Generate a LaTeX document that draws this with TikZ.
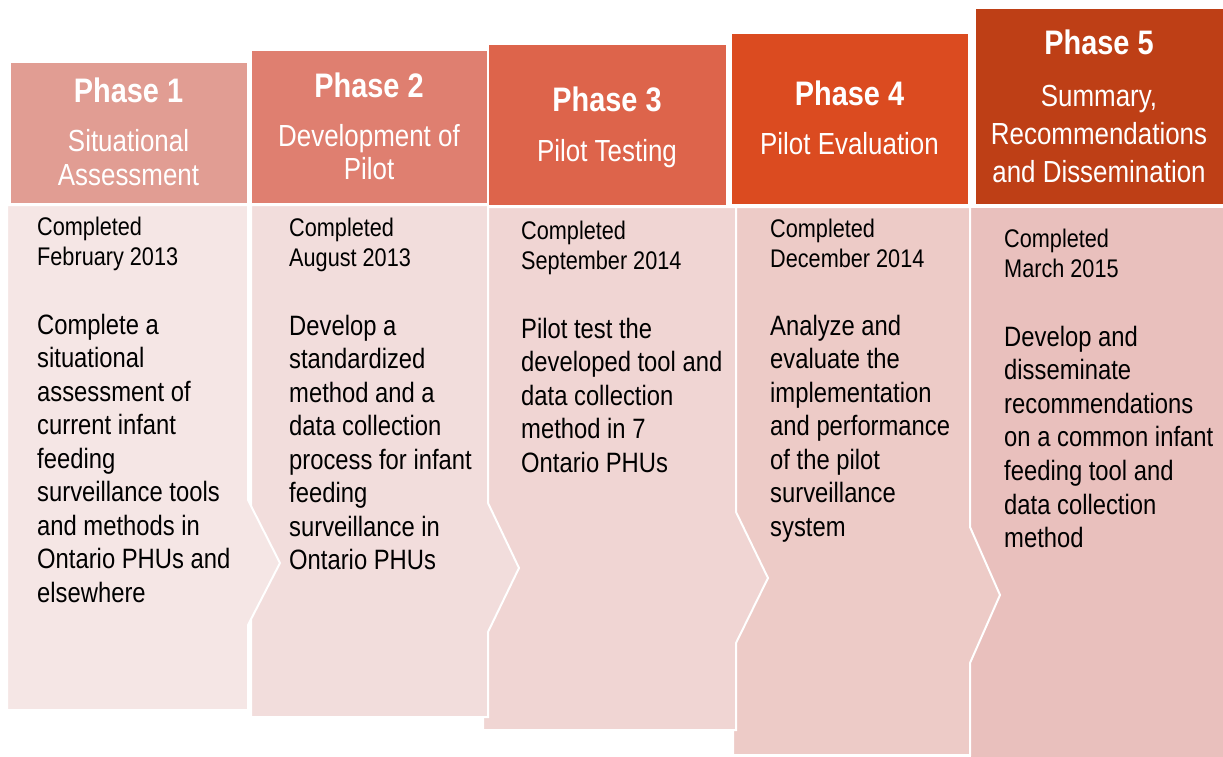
\documentclass[tikz,border=0pt]{standalone}
\usepackage{fontspec}
\setmainfont{Liberation Sans}[FakeStretch=0.85]
\definecolor{hA}{HTML}{E19D93}
\definecolor{hB}{HTML}{DF7F70}
\definecolor{hC}{HTML}{DD644B}
\definecolor{hD}{HTML}{DB4B20}
\definecolor{hE}{HTML}{BE3F16}
\definecolor{pA}{HTML}{F5E6E5}
\definecolor{pB}{HTML}{F2DDDC}
\definecolor{pC}{HTML}{F0D5D3}
\definecolor{pD}{HTML}{EDCBC7}
\definecolor{pE}{HTML}{E9C0BD}
\begin{document}
% multi-line nodes below are placed by the baseline of their last line
\begin{tikzpicture}[x=1pt,y=-1pt,
  hdr/.style={draw=white, line width=1.2pt, inner sep=0pt, anchor=north west},
  panel/.style={draw=white, line width=2pt, line join=miter},
  title/.style={anchor=base, text=white, inner sep=0pt,
    font=\fontsize{34}{40}\selectfont\bfseries},
  subtitle/.style={anchor=base, text=white, align=center, inner sep=0pt,
    font=\fontsize{30.5}{33}\selectfont},
  datetext/.style={anchor=base west, align=left, inner sep=0pt,
    font=\fontsize{25.5}{30}\selectfont},
  bodytext/.style={anchor=base west, align=left, inner sep=0pt,
    font=\fontsize{28}{33.5}\selectfont}]
\useasboundingbox (0,0) rectangle (1223,757);

% body panels, back to front so each point overlaps the next panel
\path[panel, fill=pE] (970,207) -- (1226,207) -- (1226,760) -- (970,760) -- cycle;
\path[panel, fill=pD] (733,207) -- (970,207) -- (970,527) -- (1000,595) -- (970,663)
  -- (970,755) -- (733,755) -- cycle;
\path[panel, fill=pC] (483,207) -- (736,207) -- (736,512) -- (768,578) -- (736,643)
  -- (736,730) -- (483,730) -- cycle;
\path[panel, fill=pB] (251,205) -- (488,205) -- (488,503) -- (519,568) -- (488,632)
  -- (488,717) -- (251,717) -- cycle;
\path[panel, fill=pA] (7,205) -- (248,205) -- (248,500) -- (280,563) -- (248,625)
  -- (248,710) -- (7,710) -- cycle;

% header boxes
\node[hdr, fill=hA, minimum width=237pt, minimum height=141pt] (h1) at (10,62) {};
\node[hdr, fill=hB, minimum width=236pt, minimum height=153pt] (h2) at (251,50) {};
\node[hdr, fill=hC, minimum width=238pt, minimum height=161pt] (h3) at (488,44) {};
\node[hdr, fill=hD, minimum width=237pt, minimum height=171pt] (h4) at (731,33) {};
\node[hdr, fill=hE, minimum width=250pt, minimum height=196pt] (h5) at (975,8) {};

% header texts
\node[title] (t1) at (128.5,103) {Phase 1};
\node[subtitle] (s1) at (128.5,185) {Situational\\Assessment};
\node[title] (t2) at (369,98) {Phase 2};
\node[subtitle] (s2) at (369,179) {Development of\\Pilot};
\node[title] (t3) at (607,112) {Phase 3};
\node[subtitle] (s3) at (607,161) {Pilot Testing};
\node[title] (t4) at (849.5,106) {Phase 4};
\node[subtitle] (s4) at (849.5,154) {Pilot Evaluation};
\node[title] (t5) at (1099,55) {Phase 5};
\node[subtitle, font=\fontsize{30.5}{37.5}\selectfont] (s5) at (1099,182)
  {Summary,\\Recommendations\\and Dissemination};

% completion dates
\node[datetext] (d1) at (37,265) {Completed\\February 2013};
\node[datetext] (d2) at (289,266) {Completed\\August 2013};
\node[datetext] (d3) at (521,269) {Completed\\September 2014};
\node[datetext] (d4) at (770,267) {Completed\\December 2014};
\node[datetext] (d5) at (1004,277) {Completed\\March 2015};

% phase descriptions
\node[bodytext] (b1) at (37,602) {Complete a\\situational\\assessment of\\current infant\\feeding\\surveillance tools\\and methods in\\Ontario PHUs and\\elsewhere};
\node[bodytext] (b2) at (289,569.5) {Develop a\\standardized\\method and a\\data collection\\process for infant\\feeding\\surveillance in\\Ontario PHUs};
\node[bodytext] (b3) at (521,472) {Pilot test the\\developed tool and\\data collection\\method in 7\\Ontario PHUs};
\node[bodytext] (b4) at (770,536) {Analyze and\\evaluate the\\implementation\\and performance\\of the pilot\\surveillance\\system};
\node[bodytext, font=\fontsize{28}{33.6}\selectfont] (b5) at (1004,547.6) {Develop and\\disseminate\\recommendations\\on a common infant\\feeding tool and\\data collection\\method};
\end{tikzpicture}
\end{document}
